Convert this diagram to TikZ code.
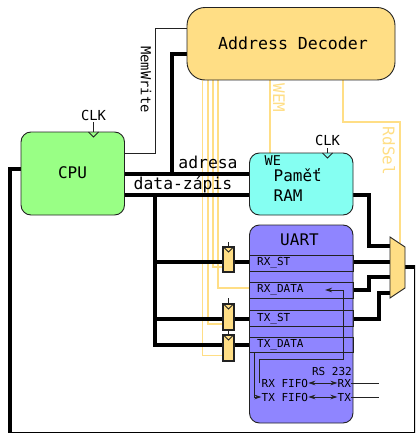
\documentclass[tikz,border=0pt]{standalone}
\usepackage{fontspec}
\setmainfont{DejaVu Sans Mono}
\usetikzlibrary{arrows.meta}
\definecolor{yel}{HTML}{FFDE85}
\definecolor{grn}{HTML}{99FF85}
\definecolor{cyn}{HTML}{85FFF2}
\definecolor{vio}{HTML}{8F85FF}
\definecolor{ink}{HTML}{222222}
\tikzset{
  block/.style={draw=ink,line width=0.9pt,rounded corners=10pt,minimum width=0pt,inner sep=0pt},
  bus/.style={draw=black,line width=4pt,line join=miter},
  ctl/.style={draw=yel,line width=1.8pt},
  wire/.style={draw=ink,line width=0.9pt},
  reg/.style={draw=ink,line width=0.9pt},
  ff/.style={draw=ink,fill=yel,line width=1.1pt},
  ptr/.style={wire,-{Stealth[length=7pt,width=4.5pt]}},
  dbl/.style={wire,{Stealth[length=7pt,width=4.5pt]}-{Stealth[length=7pt,width=4.5pt]}},
  txt/.style={inner sep=0pt,text=black,anchor=center},
  fs/.style={font=\fontsize{#1}{#1}\selectfont}
}
\newcommand{\ffclock}[2]{\draw[ink,line width=0.9pt] (#1-5,#2) -- (#1,#2+5) -- (#1+5,#2);}
\begin{document}
\begin{tikzpicture}[x=1pt,y=-1pt]
\useasboundingbox (0,0) rectangle (415,433);
\clip (0,0) rectangle (415,433);
\coordinate (memA) at (124.5,153);
\coordinate (memB) at (155.5,153);
\coordinate (memC) at (155.5,28);
\coordinate (memD) at (187,28);
% control lines behind
\draw[ctl] (202.5,80) -- (202.5,355.5) -- (223,355.5);
\draw[ctl] (207.7,80) -- (207.7,324) -- (223,324);
\draw[ctl] (212.7,80) -- (212.7,267) -- (223,267);
\draw[ctl] (217.7,80) -- (217.7,288) -- (250,288);
\draw[ctl] (270,80) -- (270,153);
\draw[ctl] (342.7,80) -- (342.7,122) -- (399.7,122) -- (399.7,243);
% buses
\draw[bus] (124,174) -- (250,174);
\draw[bus] (171.5,174) -- (171.5,54) -- (188,54);
\draw[bus] (124,194.5) -- (250,194.5);
\draw[bus] (155,194.5) -- (155,345) -- (250,345);
\draw[bus] (155,262) -- (250,262);
\draw[bus] (155,319) -- (250,319);
\draw[bus] (22,169) -- (10.3,169) -- (10.3,433.6) -- (415.8,433.6) -- (415.8,267) -- (404,267);
\draw[bus] (352,194.5) -- (368.5,194.5) -- (368.5,246) -- (391,246);
\draw[bus] (352,262) -- (391,262);
\draw[bus] (352,290) -- (368.5,290) -- (368.5,277) -- (391,277);
\draw[bus] (352,319) -- (379,319) -- (379,293) -- (391,293);
% memwrite
\draw[wire] (memA) -- (memB) -- (memC) -- (memD);
% main blocks
\draw[block,fill=yel,rounded corners=18pt] (187,7.5) rectangle (395,80);
\node[txt,fs=16.6] (dec) at (293,43.5) {Address Decoder};
\draw[block,fill=grn] (21,132) rectangle (124.5,215);
\node[txt,fs=16] (cpu) at (72.5,173) {CPU};
\draw[block,fill=cyn] (249.5,153) rectangle (353,215);
\node[txt,fs=16,anchor=west] (pam) at (273.5,175) {Paměť};
\node[txt,fs=16,anchor=west] (ram) at (273.5,196) {RAM};
\node[txt,fs=13.5,anchor=west] (we) at (264.5,161) {WE};
\draw[block,fill=vio] (249.5,225) rectangle (353,423);
\node[txt,fs=16] (uart) at (299.5,240) {UART};
% registers
\foreach \a/\b in {255/271,282/298,310/326,337/352}{\draw[reg] (249.5,\a) rectangle (353,\b);}
\node[txt,fs=11,anchor=west] (r1) at (257,262.5) {RX\_ST};
\node[txt,fs=11,anchor=west] (r2) at (257,290) {RX\_DATA};
\node[txt,fs=11,anchor=west] (r3) at (257,318.5) {TX\_ST};
\node[txt,fs=11,anchor=west] (r4) at (257,345) {TX\_DATA};
% internal
\node[txt,fs=11,anchor=east] (rs) at (352,371) {RS 232};
\node[txt,fs=11,anchor=west] (rf) at (261.5,383) {RX FIFO};
\node[txt,fs=11,anchor=west] (tf) at (261.5,397) {TX FIFO};
\node[txt,fs=11,anchor=west] (rx) at (337.5,383) {RX};
\node[txt,fs=11,anchor=west] (tx) at (337.5,397) {TX};
\draw[dbl] (rf.east) -- (rx.west);
\draw[dbl] (tf.east) -- (tx.west);
\draw[wire] (rx.east) -- (379,383);
\draw[wire] (tx.east) -- (379,397);
\draw[ptr] (259,383) -- (259,359.3) -- (343.7,359.3) -- (343.7,290) -- (325,290);
\draw[ptr] (254.3,352) -- (254.3,397) -- (tf.west);
% flip flops
\draw[ff] (223,247) rectangle (234,272);
\draw[ff] (223,304) rectangle (234,330);
\draw[ff] (223,335) rectangle (234,361);
\ffclock{228.5}{247}
\ffclock{228.5}{304}
\ffclock{228.5}{335}
\draw[wire] (228.5,242) -- (228.5,247);
\draw[wire] (228.5,298) -- (228.5,304);
\draw[wire] (228.5,330) -- (228.5,335);
% mux
\draw[ink,fill=yel,line width=0.9pt] (390,237) -- (405,247) -- (405,288) -- (390,298) -- cycle;
% clocks
\node[txt,fs=13.8] (clk1) at (93.5,115) {CLK};
\draw[wire] (93.5,122) -- (93.5,132);
\draw[wire] (88.5,132) -- (93.5,137) -- (98.5,132);
\node[txt,fs=13.8] (clk2) at (327.5,140) {CLK};
\draw[wire] (327.5,148) -- (327.5,153);
\draw[wire] (322.5,153) -- (327.5,158) -- (332.5,153);
% labels
\node[txt,fs=16.4] (ad) at (208,162) {adresa};
\node[txt,fs=16.4] (dz) at (183,185) {data-zápis};
\node[txt,fs=13.8,rotate=-90] (mw) at (146,79.5) {MemWrite};
\node[txt,fs=16,rotate=-90,text=yel] (wem) at (279,98) {WEM};
\node[txt,fs=16,rotate=-90,text=yel] (rds) at (389,151) {RdSel};
\end{tikzpicture}
\end{document}
